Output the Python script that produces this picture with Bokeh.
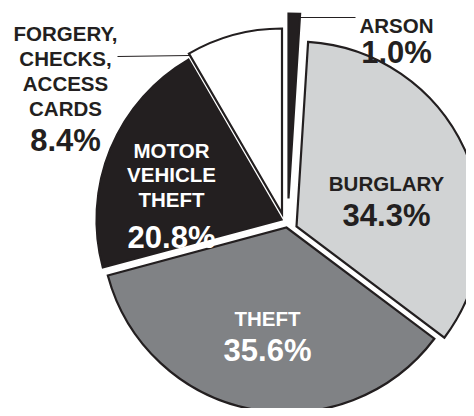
import math
from bokeh.plotting import figure
from bokeh.models import Range1d, ColumnDataSource
from bokeh.core.properties import value
from bokeh.embed import file_html
from bokeh.resources import INLINE

# ---- data ----
categories = ["ARSON", "BURGLARY", "THEFT", "MOTOR VEHICLE THEFT", "FORGERY, CHECKS, ACCESS CARDS"]
shares = [1.0, 34.3, 35.6, 20.8, 8.4]
label_lines = [["ARSON"], ["BURGLARY"], ["THEFT"],
               ["MOTOR", "VEHICLE", "THEFT"],
               ["FORGERY,", "CHECKS,", "ACCESS", "CARDS"]]

# ---- styles / layout ----
fill_colors = ["#231f20", "#d1d3d4", "#808285", "#231f20", "#ffffff"]
text_colors = ["#231f20", "#231f20", "#ffffff", "#ffffff", "#231f20"]
INK = "#231f20"
H = 416
R = 185
base = (288, 222)
explode = [(0, -24), (8, 4), (-2, 5), (-7, -3), (-6.5, -9)]
# label layout: center x, baselines of name lines, baseline of percentage
label_layout = [
    (396, [25], 52),
    (386, [183.3], 215),
    (267, [318.3], 350),
    (171, [150, 174.3, 199.3], 237.3),
    (65, [33, 58.3, 83.3, 108.3], 140),
]
leaders = [((300, 17), (355, 17)), ((117, 56), (189, 55))]

def Y(y):
    return H - y

p = figure(width=466, height=408, x_range=Range1d(0, 466), y_range=Range1d(8, 416),
           output_backend="svg", toolbar_location=None, min_border=0,
           x_axis_location=None, y_axis_location=None)
p.grid.visible = False
p.outline_line_color = None
p.background_fill_color = "white"

total = sum(shares)
cum = 0.0
xs, ys, starts, ends = [], [], [], []
for i, s in enumerate(shares):
    t1 = cum / total * 360.0
    cum += s
    t2 = cum / total * 360.0
    xs.append(base[0] + explode[i][0])
    ys.append(Y(base[1] + explode[i][1]))
    starts.append(math.radians(90 - t2))
    ends.append(math.radians(90 - t1))

src = ColumnDataSource(dict(x=xs, y=ys, start=starts, end=ends, fill=fill_colors, cat=categories))
p.wedge(x="x", y="y", radius=R, start_angle="start", end_angle="end",
        fill_color="fill", line_color=INK, line_width=2.2, line_join="miter", source=src)

for (a, b) in leaders:
    p.line([a[0], b[0]], [Y(a[1]), Y(b[1])], line_color=INK, line_width=1)

tx, ty, tt, tc = [], [], [], []
px, py, pt, pc = [], [], [], []
for i, lines in enumerate(label_lines):
    cx, bls, pb = label_layout[i]
    for line, bl in zip(lines, bls):
        tx.append(cx); ty.append(Y(bl)); tt.append(line); tc.append(text_colors[i])
    px.append(cx); py.append(Y(pb)); pt.append(f"{shares[i]:.1f}%"); pc.append(text_colors[i])

p.text(x=tx, y=ty, text=tt, text_color=tc, text_align="center", text_baseline="alphabetic",
       text_font=value("Liberation Sans"), text_font_style="bold", text_font_size="20.5px")
p.text(x=px, y=py, text=pt, text_color=pc, text_align="center", text_baseline="alphabetic",
       text_font=value("Liberation Sans"), text_font_style="bold", text_font_size="31px")

open("out.html", "w").write(file_html(p, INLINE))
